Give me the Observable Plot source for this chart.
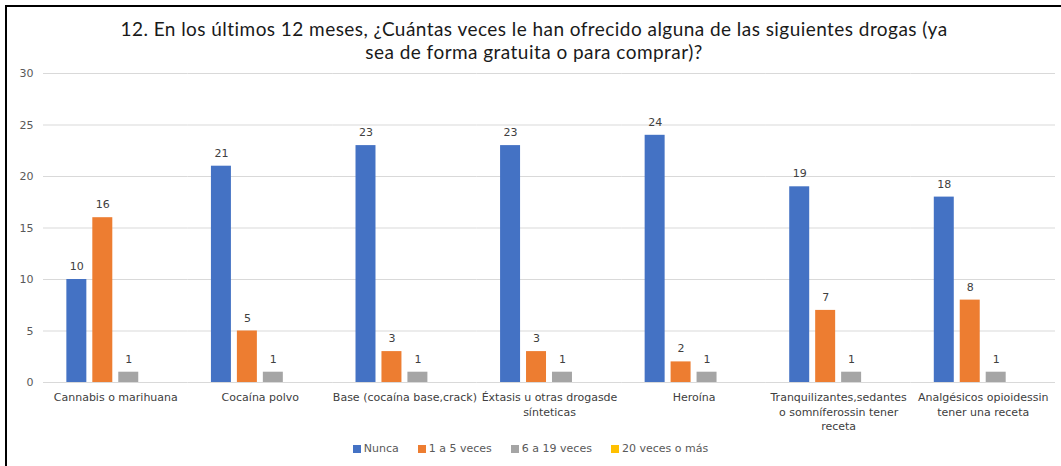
<!DOCTYPE html>
<html><head><meta charset="utf-8">
<script src="https://cdn.jsdelivr.net/npm/d3@7"></script>
<script src="https://cdn.jsdelivr.net/npm/@observablehq/plot@0.6"></script>
<style>
body{margin:0;background:#fff;}
#wrap{position:relative;width:1061px;height:466px;overflow:hidden;background:#fff;}
#frame{position:absolute;left:5px;top:5px;width:1100px;height:500px;border-left:2px solid #000;border-top:2px solid #000;box-sizing:border-box;}
#title{position:absolute;left:7px;top:17px;width:1054px;text-align:center;font-family:Lato,sans-serif;font-size:19px;letter-spacing:0.45px;line-height:23px;color:#1a1a1a;}
#chart{position:absolute;left:0;top:62px;}
#legend{position:absolute;top:442px;left:0;width:1061px;display:flex;justify-content:center;gap:19px;font-family:"DejaVu Sans",sans-serif;font-size:11px;color:#595959;line-height:14px;}
#legend .it{display:flex;align-items:center;gap:3px;}
#legend .sw{width:8px;height:8px;display:inline-block;}
</style></head>
<body><div id="wrap"><div id="frame"></div>
<div id="title">12. En los últimos 12 meses, ¿Cuántas veces le han ofrecido alguna de las siguientes drogas (ya<br>sea de forma gratuita o para comprar)?</div>
<div id="chart"></div><div id="legend"></div></div>
<script>
const categories = ["Cannabis o marihuana","Cocaína polvo","Base (cocaína base,crack)","Éxtasis u otras drogasde sínteticas","Heroína","Tranquilizantes,sedantes o somníferossin tener receta","Analgésicos opioidessin tener una receta"];
const categoryLines = [["Cannabis o marihuana"],["Cocaína polvo"],["Base (cocaína base,crack)"],["Éxtasis u otras drogasde","sínteticas"],["Heroína"],["Tranquilizantes,sedantes","o somníferossin tener","receta"],["Analgésicos opioidessin","tener una receta"]];
const series = ["Nunca","1 a 5 veces","6 a 19 veces","20 veces o más"];
const nunca = [10,21,23,23,24,19,18];
const unoACinco = [16,5,3,3,2,7,8];
const seisA19 = [1,1,1,1,1,1,1];
const veinteOMas = [0,0,0,0,0,0,0];
const colors = ["#4472C4","#ED7D31","#A5A5A5","#FFC000"];
const yTicks = [0,5,10,15,20,25,30];

const seriesValues = [nunca, unoACinco, seisA19, veinteOMas];
const data = [];
categories.forEach((c,i)=>series.forEach((s,j)=>data.push({cat:c, series:s, value:seriesValues[j][i]})));
const lineMap = new Map(categories.map((c,i)=>[c, categoryLines[i].join("\n")]));

const chart = Plot.plot({
  width:1061, height:378, marginTop:11, marginBottom:58, marginLeft:43, marginRight:6,
  fx:{domain:categories, padding:0, round:false, label:null},
  x:{domain:series, paddingInner:0.23, paddingOuter:0.9, round:false, axis:null},
  y:{domain:[0,30], label:null},
  color:{domain:series, range:colors},
  style:{fontFamily:"DejaVu Sans, sans-serif", fontSize:"11px", color:"#595959", background:"transparent"},
  marks:[
    Plot.gridY(yTicks,{stroke:"#d9d9d9", strokeOpacity:1, strokeWidth:1}),
    Plot.axisY(yTicks,{tickSize:0, tickPadding:10, fill:"#595959", label:null}),
    Plot.barY(data,{fx:"cat", x:"series", y:"value", fill:"series"}),
    Plot.text(data.filter(d=>d.value>0),{fx:"cat", x:"series", y:"value", text:d=>String(d.value), dy:-13, fill:"#404040"}),
    Plot.axisFx({anchor:"bottom", tickSize:0, tickPadding:8, tickFormat:c=>lineMap.get(c), lineHeight:1.33, fill:"#404040", label:null})
  ]
});
document.getElementById("chart").appendChild(chart);

const lg = document.getElementById("legend");
series.forEach((s,i)=>{
  const it=document.createElement("span"); it.className="it";
  const sw=document.createElement("span"); sw.className="sw"; sw.style.background=colors[i];
  const t=document.createElement("span"); t.textContent=s;
  it.appendChild(sw); it.appendChild(t); lg.appendChild(it);
});
</script></body></html>
